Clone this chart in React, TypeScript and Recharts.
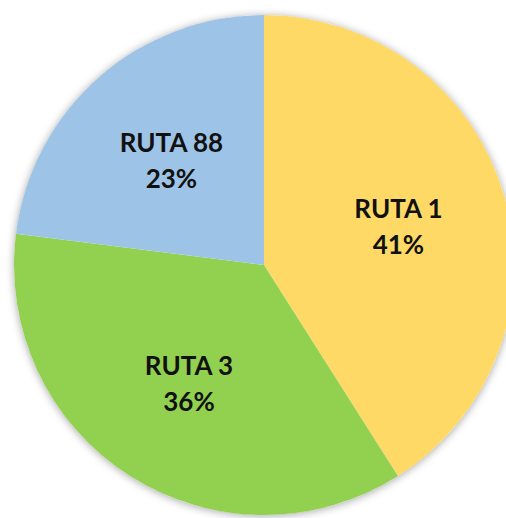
import React from 'react';
import { PieChart, Pie, Cell } from 'recharts';

const ROUTES = ['RUTA 1', 'RUTA 3', 'RUTA 88'];
const SHARES = [41, 36, 23];
const COLORS = ['#FFD966', '#92D050', '#9DC3E6'];

const chartData = ROUTES.map((name, i) => ({ name, value: SHARES[i] }));
const backdrop = [{ name: 'bg', value: 1 }];

const RADIAN = Math.PI / 180;

function renderLabel(props: any) {
  const { cx, cy, midAngle, outerRadius, index } = props;
  const r = outerRadius * 0.56;
  const x = cx + r * Math.cos(-midAngle * RADIAN);
  const y = cy + r * Math.sin(-midAngle * RADIAN);
  return (
    <text
      x={x}
      y={y}
      textAnchor="middle"
      fill="#111"
      fontFamily="Lato, 'Open Sans', sans-serif"
      fontWeight={700}
      fontSize={26}
    >
      <tspan x={x} dy={-8}>{ROUTES[index]}</tspan>
      <tspan x={x} dy={36}>{`${SHARES[index]}%`}</tspan>
    </text>
  );
}

export default function App() {
  return (
    <div style={{ position: 'absolute', left: 0, top: 0, width: 506, height: 518, background: '#fff' }}>
      <PieChart width={506} height={518} margin={{ top: 0, right: 0, bottom: 0, left: 0 }}>
        <Pie
          data={backdrop}
          dataKey="value"
          cx={264}
          cy={265}
          outerRadius={250}
          startAngle={90}
          endAngle={-270}
          stroke="none"
          isAnimationActive={false}
        >
          <Cell fill="#fff" style={{ filter: 'drop-shadow(0px 1px 4px rgba(0,0,0,0.35))' }} />
        </Pie>
        <Pie
          data={chartData}
          dataKey="value"
          cx={264}
          cy={265}
          outerRadius={250}
          startAngle={90}
          endAngle={-270}
          stroke="none"
          labelLine={false}
          label={renderLabel}
          isAnimationActive={false}
        >
          {chartData.map((entry, index) => (
            <Cell key={`cell-${index}`} fill={COLORS[index]} />
          ))}
        </Pie>
      </PieChart>
    </div>
  );
}
